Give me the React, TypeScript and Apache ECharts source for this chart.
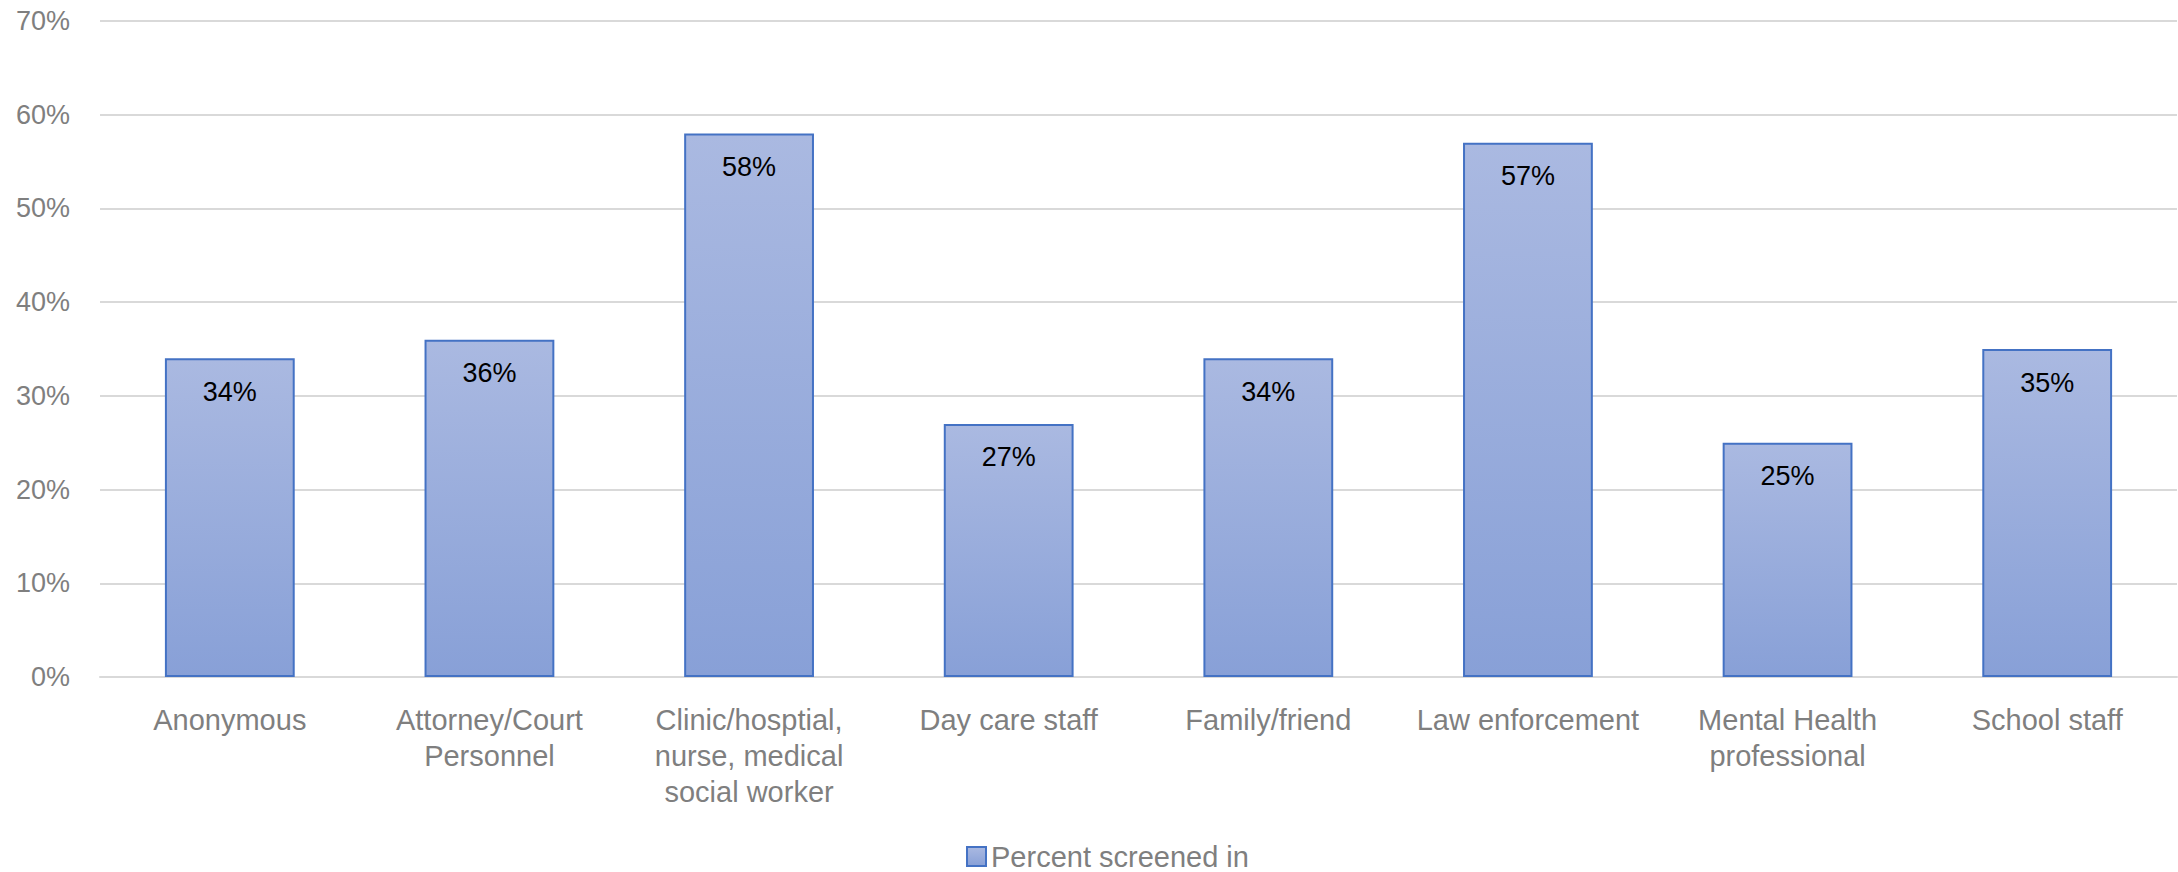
import React, { useEffect, useRef } from "react";
import * as echarts from "echarts";

const categories = [
  "Anonymous",
  "Attorney/Court\nPersonnel",
  "Clinic/hosptial,\nnurse, medical\nsocial worker",
  "Day care staff",
  "Family/friend",
  "Law enforcement",
  "Mental Health\nprofessional",
  "School staff",
];
const seriesName = "Percent screened in";
const values = [34, 36, 58, 27, 34, 57, 25, 35];
const yTicks = { min: 0, max: 70, interval: 10 };

const FONT = "'Liberation Sans', 'DejaVu Sans', sans-serif";

export default function App() {
  const ref = useRef<HTMLDivElement>(null);
  useEffect(() => {
    if (!ref.current) return;
    const chart = echarts.init(ref.current, null, { renderer: "svg" });
    chart.setOption({
      animation: false,
      backgroundColor: "#ffffff",
      textStyle: { fontFamily: FONT },
      grid: { left: 100, right: 1, top: 21, bottom: 195, containLabel: false },
      legend: {
        left: 966,
        top: 842,
        padding: 0,
        itemWidth: 19,
        itemHeight: 19,
        itemGap: 8,
        icon: "rect",
        textStyle: { color: "#7f7f7f", fontSize: 29, fontFamily: FONT },
        data: [seriesName],
      },
      xAxis: {
        type: "category",
        data: categories,
        axisTick: { show: false },
        axisLine: { show: true, lineStyle: { color: "#d9d9d9", width: 2 } },
        axisLabel: {
          color: "#7f7f7f",
          fontSize: 29,
          lineHeight: 36,
          margin: 25,
          interval: 0,
          fontFamily: FONT,
        },
      },
      yAxis: {
        type: "value",
        min: yTicks.min,
        max: yTicks.max,
        interval: yTicks.interval,
        axisLine: { show: false },
        axisTick: { show: false },
        splitLine: { lineStyle: { color: "#d9d9d9", width: 2 } },
        axisLabel: {
          color: "#7f7f7f",
          fontSize: 27,
          margin: 30,
          formatter: (v: number) => `${v}%`,
          fontFamily: FONT,
        },
      },
      series: [
        {
          name: seriesName,
          type: "bar",
          data: values,
          barWidth: "50%",
          itemStyle: {
            color: new echarts.graphic.LinearGradient(0, 0, 0, 1, [
              { offset: 0, color: "#aab9e1" },
              { offset: 1, color: "#88a0d7" },
            ]),
            borderColor: "#4472c4",
            borderWidth: 2,
          },
          label: {
            show: true,
            position: "insideTop",
            distance: 20,
            color: "#000000",
            fontSize: 27,
            fontFamily: FONT,
            formatter: (p: any) => `${p.value}%`,
          },
        },
      ],
    });
    return () => chart.dispose();
  }, []);
  return (
    <div
      ref={ref}
      style={{ position: "fixed", left: 0, top: 0, width: 2178, height: 872 }}
    />
  );
}
